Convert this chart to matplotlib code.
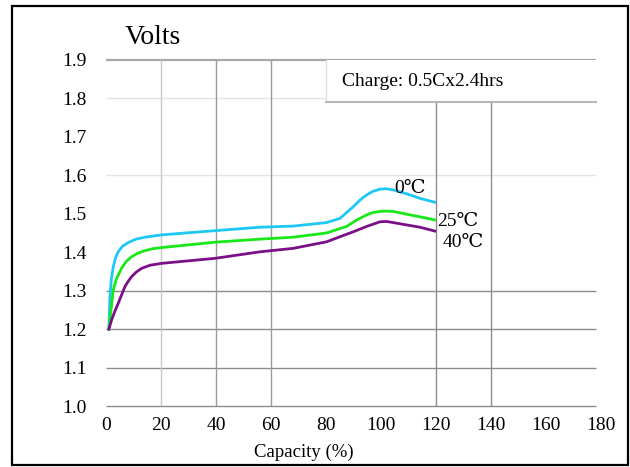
import matplotlib
matplotlib.use("Agg")
import matplotlib.pyplot as plt
from matplotlib.patches import Rectangle

# Capacity (%) and voltage readings for each temperature
cap_0c = [1.1, 1.5, 2.0, 2.7, 3.5, 4.5, 6.0, 8.1, 11.0, 14.2, 20.2, 39.6, 56.0,
          68.1, 80.2, 85.1, 89.9, 92.3, 94.8, 97.0, 99.6, 102.0, 104.5, 109.3,
          114.2, 119.6]
volt_0c = [1.200, 1.284, 1.330, 1.362, 1.385, 1.401, 1.415, 1.425, 1.434, 1.439,
           1.445, 1.456, 1.465, 1.468, 1.477, 1.488, 1.518, 1.535, 1.549, 1.558,
           1.564, 1.565, 1.562, 1.552, 1.540, 1.530]

cap_25c = [1.1, 2.7, 3.8, 5.7, 7.3, 9.3, 11.5, 14.2, 17.0, 20.2, 39.6, 56.0,
           68.1, 80.2, 87.5, 91.0, 94.8, 97.0, 99.6, 102.0, 104.5, 109.3, 114.2,
           119.6]
volt_25c = [1.200, 1.302, 1.330, 1.358, 1.375, 1.388, 1.397, 1.404, 1.409,
            1.412, 1.426, 1.434, 1.439, 1.450, 1.467, 1.483, 1.497, 1.503, 1.506,
            1.507, 1.506, 1.499, 1.492, 1.484]

cap_40c = [1.1, 2.1, 3.2, 4.5, 6.9, 8.1, 9.3, 11.0, 13.0, 16.0, 20.2, 39.6,
           56.0, 68.1, 80.2, 85.0, 89.9, 94.8, 99.6, 102.0, 104.5, 109.3, 114.2,
           119.6]
volt_40c = [1.200, 1.224, 1.245, 1.267, 1.310, 1.324, 1.336, 1.348, 1.358,
            1.366, 1.371, 1.384, 1.401, 1.410, 1.427, 1.440, 1.453, 1.467, 1.479,
            1.480, 1.477, 1.471, 1.465, 1.455]

x_ticks = [0, 20, 40, 60, 80, 100, 120, 140, 160, 180]
y_ticks = [1.0, 1.1, 1.2, 1.3, 1.4, 1.5, 1.6, 1.7, 1.8, 1.9]

plt.rcParams["font.family"] = ["Liberation Serif", "DejaVu Serif"]

fig = plt.figure(figsize=(6.3, 4.67), dpi=100)
ax = fig.add_axes([0.168, 0.1306, 0.786, 0.741])
ax.set_xlim(0, 180)
ax.set_ylim(1.0, 1.9)
for s in ax.spines.values():
    s.set_visible(False)

# grid as it appears in the scan (some lines missing)
x_end = 178
ax.hlines([1.0, 1.1, 1.2, 1.3], 0, x_end, color="#8c8c8c", lw=1.0, clip_on=False)
ax.hlines([1.6], 0, x_end, color="#e4e4e4", lw=1.0, clip_on=False)
ax.hlines([1.8], 0, 80, color="#e4e4e4", lw=1.0, clip_on=False)
ax.hlines([1.9], 0, x_end, color="#a8a8a8", lw=1.6, clip_on=False)
ax.vlines([20], 1.0, 1.9, color="#c8c8c8", lw=1.0)
ax.vlines([40, 60], 1.0, 1.9, color="#9a9a9a", lw=1.0)
ax.vlines([120, 140], 1.0, 1.79, color="#8c8c8c", lw=1.0)

# text box
ax.add_patch(Rectangle((80, 1.79), x_end - 80, 0.11, facecolor="white",
                       edgecolor="none", zorder=2))
ax.plot([80, 80], [1.79, 1.9], color="#e0e0e0", lw=1.0, zorder=3)
ax.plot([80, x_end], [1.79, 1.79], color="#b4b4b4", lw=1.4, zorder=3, clip_on=False)
ax.text(86, 1.845, "Charge: 0.5Cx2.4hrs", fontsize=14, va="center", zorder=4)

ax.plot(cap_0c, volt_0c, color="#1ec8f5", lw=2.0, solid_joinstyle="round", zorder=5)
ax.plot(cap_25c, volt_25c, color="#18e818", lw=2.0, solid_joinstyle="round", zorder=5)
ax.plot(cap_40c, volt_40c, color="#7a0f86", lw=2.0, solid_joinstyle="round", zorder=5)

ax.text(110.5, 1.567, "0℃", fontsize=14, ha="center", va="center", zorder=6)
ax.text(120.4, 1.479, "25℃", fontsize=14, ha="left", va="center", zorder=6)
ax.text(122.5, 1.424, "40℃", fontsize=14, ha="left", va="center", zorder=6)

ax.set_xticks(x_ticks)
ax.set_yticks(y_ticks)
ax.set_xticklabels([str(v) for v in x_ticks], fontsize=14)
ax.set_yticklabels([f"{v:.1f}" for v in y_ticks], fontsize=14)
ax.tick_params(axis="both", length=0)
ax.tick_params(axis="x", pad=8)
ax.tick_params(axis="y", pad=14)

fig.text(0.198, 0.919, "Volts", fontsize=20, va="center", ha="left")
fig.text(0.483, 0.031, "Capacity (%)", fontsize=13.5, va="center", ha="center")

fig.patches.append(Rectangle((12 / 630, 2 / 467), 616 / 630, 459 / 467,
                             transform=fig.transFigure, fill=False,
                             edgecolor="black", lw=1.6))

fig.savefig("out.png", dpi=100)
